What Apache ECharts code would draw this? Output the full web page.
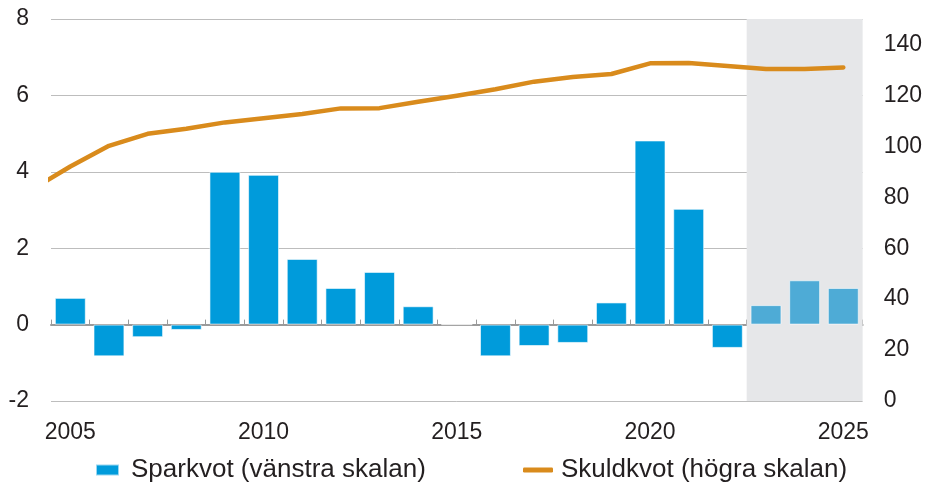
<!DOCTYPE html>
<html>
<head>
    <meta charset="utf-8">
    <title>Sparkvot och skuldkvot</title>
    <script src="https://cdn.jsdelivr.net/npm/echarts@6/dist/echarts.min.js"></script>
    <style>
        html, body { margin: 0; padding: 0; background: #fff; }
    </style>
</head>
<body>
<div id="main" style="width: 925px;height:483px;"></div>
<script type="text/javascript">
    // kategorier (år) för staplarna
    var years = ['2005', '2006', '2007', '2008', '2009', '2010', '2011', '2012', '2013', '2014', '2015',
        '2016', '2017', '2018', '2019', '2020', '2021', '2022', '2023', '2024', '2025'];
    // sparkvot, procent (vänstra skalan)
    var sparkvot = [0.7, -0.83, -0.33, -0.14, 4.0, 3.92, 1.72, 0.96, 1.38, 0.48, 0,
        -0.83, -0.56, -0.48, 0.58, 4.82, 3.03, -0.61, 0.51, 1.16, 0.96];
    // skuldkvot, procent (högra skalan); linjen börjar redan 2004 och klipps vid kanten
    var skuldYears = [2004, 2005, 2006, 2007, 2008, 2009, 2010, 2011, 2012, 2013, 2014, 2015,
        2016, 2017, 2018, 2019, 2020, 2021, 2022, 2023, 2024, 2025];
    var skuldkvot = [83.0, 92.1, 100.2, 104.9, 106.9, 109.4, 111.0, 112.7, 114.9, 115.0, 117.5, 119.9,
        122.4, 125.4, 127.2, 128.4, 132.6, 132.7, 131.5, 130.4, 130.4, 131.0];
    // prognosår (grått fält)
    var forecastFrom = 2023;
    var forecastTo = 2025;

    var blue = '#009bdb';
    var blueLight = '#4eabd6';
    var orange = '#d98b1c';
    var textColor = '#231f20';
    var font = 'Liberation Sans, Arial, sans-serif';

    var barData = sparkvot.map(function (v, i) {
        if (+years[i] >= forecastFrom) {
            return { value: v, itemStyle: { color: blueLight } };
        }
        return v;
    });
    var lineData = skuldYears.map(function (y, i) {
        return [y, skuldkvot[i]];
    });

    var myChart = echarts.init(document.getElementById('main'));
    var option = {
        animation: false,
        textStyle: { fontFamily: font },
        grid: { left: 51, right: 61, top: 19, bottom: 82, containLabel: false },
        legend: [{
            left: 95,
            top: 457,
            padding: 0,
            itemWidth: 23,
            itemHeight: 11,
            textStyle: { fontSize: 26, color: textColor, fontFamily: font, padding: [0, 0, 0, 7] },
            data: [{ name: 'Sparkvot (vänstra skalan)', icon: 'rect' }]
        }, {
            left: 523,
            top: 457,
            padding: 0,
            itemWidth: 30,
            itemHeight: 5,
            textStyle: { fontSize: 26, color: textColor, fontFamily: font, padding: [0, 0, 0, 3] },
            data: [{ name: 'Skuldkvot (högra skalan)', icon: 'roundRect' }]
        }],
        xAxis: [{
            // nollinjen med streck
            type: 'category',
            data: years,
            position: 'bottom',
            axisLine: { onZero: true, onZeroAxisIndex: 0, lineStyle: { color: '#9a9a9a', width: 2 } },
            axisTick: { show: true, inside: true, length: 5, lineStyle: { color: '#9a9a9a', width: 1 } },
            axisLabel: { show: false },
            splitLine: { show: false }
        }, {
            // årtal längst ner
            type: 'category',
            data: years,
            position: 'bottom',
            axisLine: { show: false },
            axisTick: { show: false },
            axisLabel: { interval: 4, margin: 20, fontSize: 23, color: textColor, fontFamily: font },
            splitLine: { show: false }
        }, {
            // dold värdeaxel för linjen och prognosfältet
            type: 'value',
            show: false,
            min: +years[0] - 0.5,
            max: +years[years.length - 1] + 0.5
        }],
        yAxis: [{
            type: 'value',
            min: -2,
            max: 8,
            interval: 2,
            axisLine: { show: false },
            axisTick: { show: false },
            axisLabel: { margin: 22, fontSize: 23, color: textColor, fontFamily: font },
            splitLine: { lineStyle: { color: '#bdbdbd', width: 1 } }
        }, {
            type: 'value',
            min: 0,
            max: 150,
            interval: 20,
            position: 'right',
            axisLine: { show: false },
            axisTick: { show: false },
            axisLabel: { margin: 21, fontSize: 23, color: textColor, fontFamily: font, showMaxLabel: false },
            splitLine: { show: false }
        }],
        series: [{
            name: 'prognos',
            type: 'line',
            xAxisIndex: 2,
            yAxisIndex: 1,
            z: -1,
            data: [],
            silent: true,
            markArea: {
                silent: true,
                itemStyle: { color: '#e6e7e9' },
                data: [[{ xAxis: forecastFrom - 0.5 }, { xAxis: forecastTo + 0.5 }]]
            }
        }, {
            name: 'Sparkvot (vänstra skalan)',
            type: 'bar',
            xAxisIndex: 0,
            yAxisIndex: 0,
            barCategoryGap: '20%',
            itemStyle: { color: blue, borderColor: 'rgba(255,255,255,0.6)', borderWidth: 1 },
            data: barData
        }, {
            name: 'Skuldkvot (högra skalan)',
            type: 'line',
            xAxisIndex: 2,
            yAxisIndex: 1,
            showSymbol: false,
            symbol: 'none',
            clip: true,
            z: 5,
            itemStyle: { color: orange },
            lineStyle: { color: orange, width: 4.5, cap: 'round', join: 'round' },
            data: lineData
        }]
    };
    myChart.setOption(option);
</script>
</body>
</html>
